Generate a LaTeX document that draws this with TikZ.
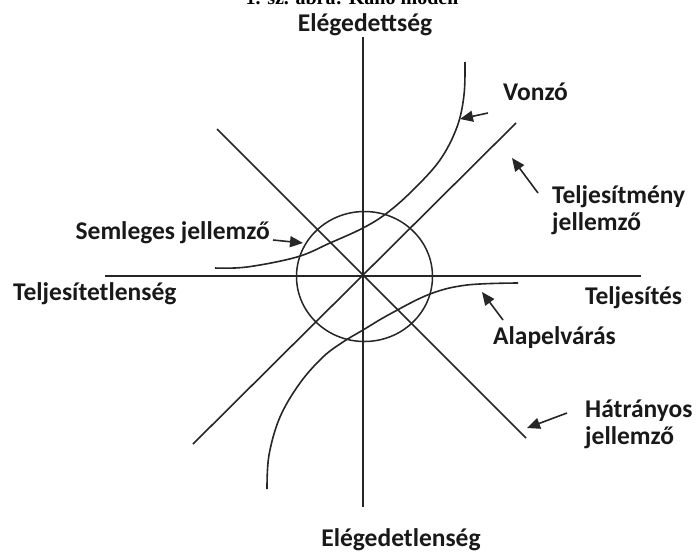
\documentclass[tikz,border=0pt]{standalone}
\usepackage{fontspec}
\setmainfont{Carlito}
\newfontfamily\titlefont{Liberation Serif}
\usetikzlibrary{arrows.meta,shapes.geometric}
\begin{document}
\begin{tikzpicture}[x=1pt,y=-1pt,
  axis/.style={line width=1.7pt,black!85},
  curve/.style={line width=1.6pt,black!85},
  pointer/.style={line width=1.6pt,black!85,-{Triangle[length=13pt,width=11pt]}},
  lbl/.style={inner sep=0pt,font=\fontsize{25.5}{27}\selectfont\bfseries,text=black!90,align=left}]
\useasboundingbox (0,0) rectangle (696,552);
\fill[white] (0,0) rectangle (696,552);
% clipped title
\node[inner sep=0pt,anchor=base,font=\titlefont\fontsize{20}{22}\selectfont\bfseries] (title) at (352,4) {1. sz. ábra: Kano modell};
% axes
\coordinate (vt) at (363,37);
\coordinate (vb) at (363,507);
\coordinate (hl) at (105,276);
\coordinate (hr) at (641,276);
\draw[axis] (vt) -- (vb);
\draw[axis] (hl) -- (hr);
% circle
\node[draw,line width=1.5pt,black!85,ellipse,minimum width=136pt,minimum height=130pt,inner sep=0pt] (circ) at (364.5,276.5) {};
% diagonals
\coordinate (d1a) at (217,129);
\coordinate (d1b) at (526,438);
\coordinate (d2a) at (193,444);
\coordinate (d2b) at (516,123);
\draw[curve] (d1a) -- (d1b);
\draw[curve] (d2a) -- (d2b);
% Vonzo curve
\draw[curve] plot[smooth,tension=0.6] coordinates {(215,268) (247,267) (297,257) (330,243) (363,228) (387,213) (413,190) (440,160) (457,127) (464,95) (465,62)};
% Alapelvaras curve
\draw[curve] plot[smooth,tension=0.6] coordinates {(267,489) (269,455) (280,417) (300,383) (323,357) (343,342) (363,330) (390,314) (430,294) (467,285) (518,283)};
% labels
\node[lbl,anchor=center] (top) at (365,25) {Elégedettség};
\node[lbl,anchor=center] (bot) at (401,540) {Elégedetlenség};
\node[lbl,anchor=west] (vonzo) at (503,92) {Vonzó};
\node[lbl,anchor=north west] (telj) at (552,185) {Teljesítmény\\jellemző};
\node[lbl,anchor=east] (semleges) at (270,233) {Semleges jellemző};
\node[lbl,anchor=west] (tn) at (13,294) {Teljesítetlenség};
\node[lbl,anchor=west] (ts) at (585,298) {Teljesítés};
\node[lbl,anchor=west] (alap) at (493,338) {Alapelvárás};
\node[lbl,anchor=north west] (hat) at (585,400) {Hátrányos\\jellemző};
% pointer arrows
\coordinate (p1s) at (488,113); \coordinate (p1e) at (460,119);
\coordinate (p2s) at (538,193); \coordinate (p2e) at (512,158);
\coordinate (p3s) at (273,240); \coordinate (p3e) at (303,243);
\coordinate (p4s) at (503,320); \coordinate (p4e) at (482,292);
\coordinate (p5s) at (567,413); \coordinate (p5e) at (527,428);
\draw[pointer] (p1s) -- (p1e);
\draw[pointer] (p2s) -- (p2e);
\draw[pointer] (p3s) -- (p3e);
\draw[pointer] (p4s) -- (p4e);
\draw[pointer] (p5s) -- (p5e);
\end{tikzpicture}
\end{document}
